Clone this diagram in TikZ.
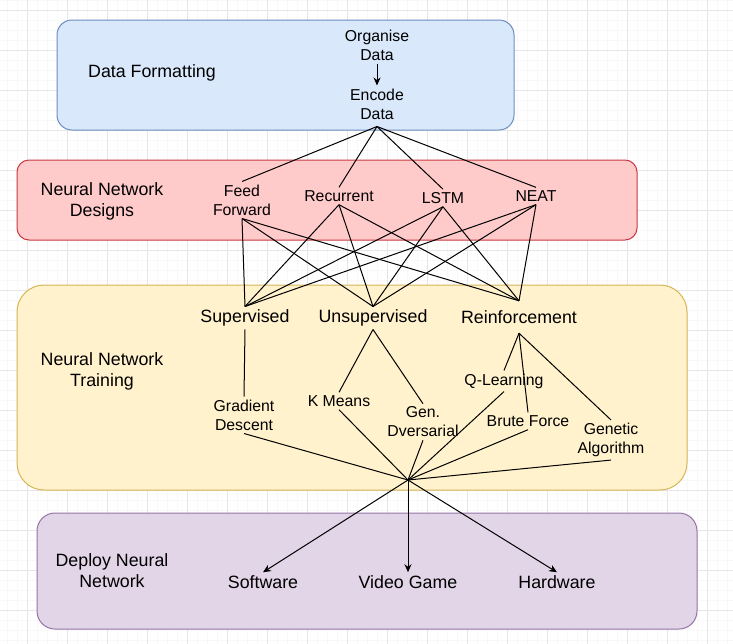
\documentclass[tikz,border=0pt]{standalone}
\usepackage{fontspec}
\setmainfont{Liberation Sans}
\usepackage{tikz}
\usetikzlibrary{arrows.meta}
\definecolor{gridmajor}{HTML}{E6E6E6}
\definecolor{gridminor}{HTML}{F8F8F8}
\definecolor{blueback}{HTML}{DAE8FC}
\definecolor{blueline}{HTML}{6C8EBF}
\definecolor{redback}{HTML}{FFCACA}
\definecolor{redline}{HTML}{C93A42}
\definecolor{yellowback}{HTML}{FFF2CC}
\definecolor{yellowline}{HTML}{D6B656}
\definecolor{purpleback}{HTML}{E1D5E7}
\definecolor{purpleline}{HTML}{9673A6}
\newcommand{\linew}{1pt}
\tikzset{
  big/.style={inner sep=3pt, align=center, font=\fontsize{17.8}{21}\selectfont},
  small/.style={inner sep=3pt, align=center, font=\fontsize{15.8}{19}\selectfont},
  link/.style={draw, line width=\linew},
  arrowlink/.style={draw, line width=\linew, -{Stealth[length=8pt,width=7pt,inset=2.5pt]}},
}

\begin{document}
\begin{tikzpicture}[x=1pt, y=-1pt]
\useasboundingbox (0,0) rectangle (733,643);
\fill[white] (0,0) rectangle (733,643);
%grid
\begin{scope}
\clip (0,0) rectangle (733,643);
\begin{scope}[shift={(7,0)}]
\draw[gridminor, line width=0.5pt, xstep=10pt, ystep=10pt] (-10,-10) grid (740,650);
\end{scope}
\begin{scope}[shift={(27,10)}]
\draw[gridmajor, line width=1pt, xstep=40pt, ystep=40pt] (-40,-40) grid (720,640);
\end{scope}
\end{scope}
%boxes
\draw[fill=blueback, draw=blueline, line width=\linew, rounded corners=15pt] (57,20) rectangle (514,130);
\draw[fill=redback, draw=redline, line width=\linew, rounded corners=12pt] (17,160) rectangle (637,240);
\draw[fill=yellowback, draw=yellowline, line width=\linew, rounded corners=27pt] (17,285) rectangle (687,490);
\draw[fill=purpleback, draw=purpleline, line width=\linew, rounded corners=18pt] (37,513) rectangle (697,629);
%data formatting
\node[big] (fmt) at (152,73) {Data Formatting};
\node[small] (org) at (377,45) {Organise\\Data};
\node[small] (enc) at (377,104) {Encode\\Data};
%designs
\node[big] (nnd) at (102,201) {Neural Network\\Designs};
\node[small] (ff) at (242,200) {Feed\\Forward};
\node[small] (rec) at (339,196) {Recurrent};
\node[small] (lstm) at (443,198) {LSTM};
\node[small] (neat) at (536,196) {NEAT};
%training
\node[big] (nnt) at (102,371) {Neural Network\\Training};
\node[big] (sup) at (245,318) {Supervised};
\node[big] (uns) at (373,318) {Unsupervised};
\node[big, minimum height=32pt] (rei) at (519,317) {Reinforcement};
\node[small] (gd) at (244,415) {Gradient\\Descent};
\node[small] (km) at (339,401) {K Means};
\node[small] (gen) at (423,422) {Gen.\\Dversarial};
\node[small] (ql) at (504,381) {Q-Learning};
\node[small] (bf) at (528,421) {Brute Force};
\node[small] (ga) at (611,440) {Genetic\\Algorithm};
\coordinate (hub) at (408,480);
%deploy
\node[big] (dnn) at (112,571) {Deploy Neural\\Network};
\node[big] (sw) at (263,582) {Software};
\node[big] (vg) at (408,582) {Video Game};
\node[big] (hw) at (557,582) {Hardware};
%links
\path[arrowlink] (org.south) -- (enc.north);
\path[link] ([yshift=-4pt]enc.south) -- (ff.north);
\path[link] ([yshift=-4pt]enc.south) -- (rec.north);
\path[link] ([yshift=-4pt]enc.south) -- (lstm.north);
\path[link] ([yshift=-4pt]enc.south) -- (neat.north);
\path[link] (ff.south) -- (sup.north);
\path[link] (ff.south) -- (uns.north);
\path[link] (ff.south) -- (rei.north);
\path[link] (rec.south) -- (sup.north);
\path[link] (rec.south) -- (uns.north);
\path[link] (rec.south) -- (rei.north);
\path[link] (lstm.south) -- (sup.north);
\path[link] (lstm.south) -- (uns.north);
\path[link] (lstm.south) -- (rei.north);
\path[link] (neat.south) -- (sup.north);
\path[link] (neat.south) -- (uns.north);
\path[link] (neat.south) -- (rei.north);
\path[link] (sup.south) -- (gd.north);
\path[link] (uns.south) -- (km.north);
\path[link] (uns.south) -- (gen.north);
\path[link] (rei.south) -- (ql.north);
\path[link] (rei.south) -- (bf.north);
\path[link] (rei.south) -- (ga.north);
\path[link] (gd.south) -- (hub);
\path[link] (km.south) -- (hub);
\path[link] (gen.south) -- (hub);
\path[link] (ql.south) -- (hub);
\path[link] (bf.south) -- (hub);
\path[link] (ga.south) -- (hub);
\path[arrowlink] (hub) -- (sw.north);
\path[arrowlink] (hub) -- (vg.north);
\path[arrowlink] (hub) -- (hw.north);
\end{tikzpicture}
\end{document}
